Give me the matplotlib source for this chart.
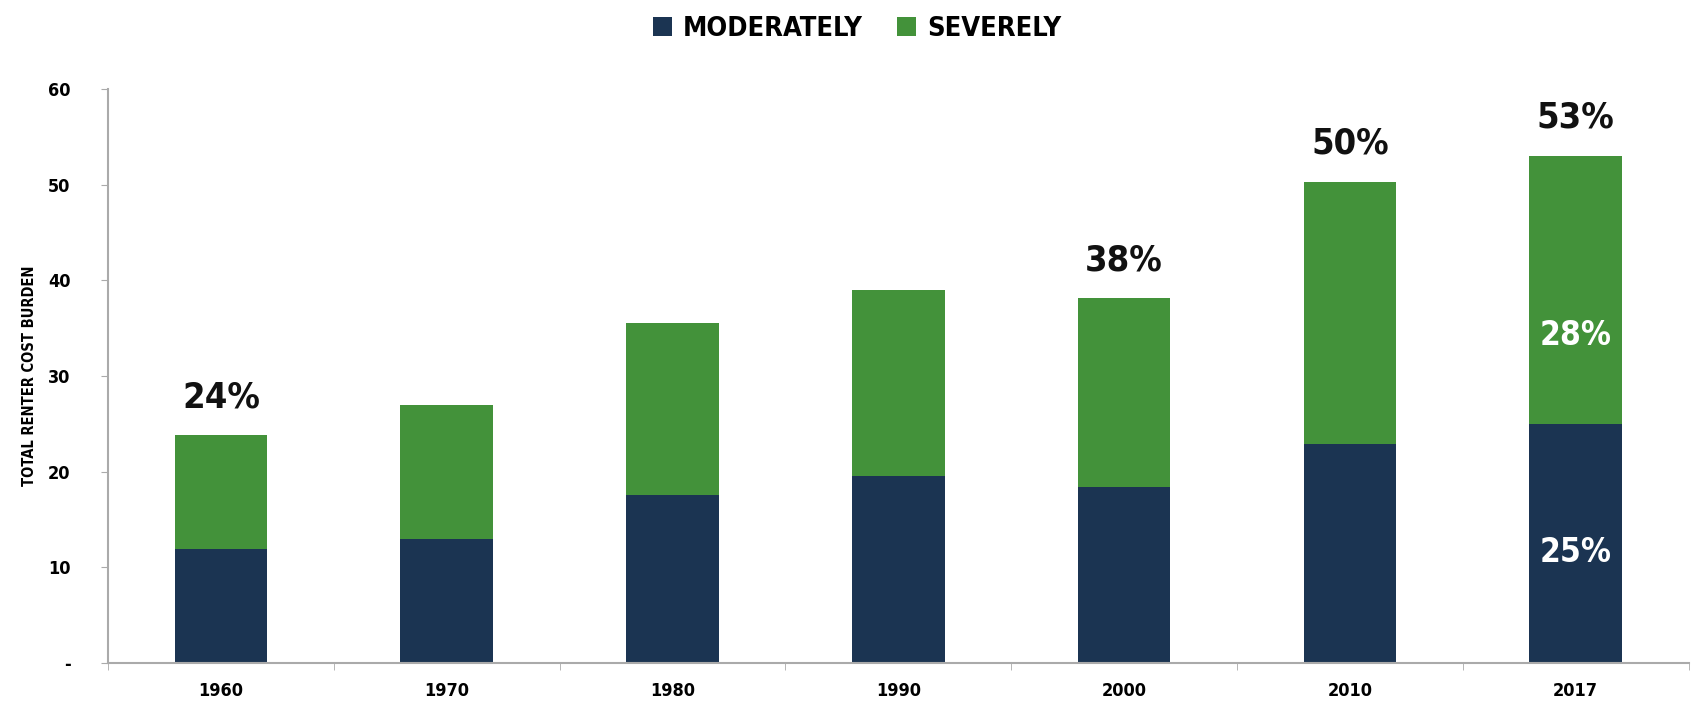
import matplotlib
matplotlib.use("Agg")
import matplotlib.pyplot as plt
import numpy as np

years = ["1960", "1970", "1980", "1990", "2000", "2010", "2017"]
moderately = [11.9, 13.0, 17.6, 19.5, 18.4, 22.9, 25.0]
severely = [11.9, 14.0, 17.9, 19.5, 19.7, 27.4, 28.0]
total_labels = {0: "24%", 4: "38%", 5: "50%", 6: "53%"}
inner_labels = {6: ("25%", "28%")}

NAVY = "#1b3452"
GREEN = "#43923a"

plt.rcParams["font.family"] = ["DejaVu Sans"]
plt.rcParams["font.stretch"] = "condensed"
plt.rcParams["font.weight"] = "bold"

fig = plt.figure(figsize=(16.97, 7.11), dpi=100)
ax = fig.add_axes([0.0636, 0.0675, 0.9314, 0.8075])

x = np.arange(len(years))
mod = np.array(moderately)
sev = np.array(severely)
ax.bar(x, mod, width=0.41, color=NAVY, label="MODERATELY")
ax.bar(x, sev, width=0.41, bottom=mod, color=GREEN, label="SEVERELY")

# totals above the bars, split shares inside the last bar
for i, txt in total_labels.items():
    ax.text(x[i], mod[i] + sev[i] + 2.2, txt, ha="center", va="bottom",
            fontsize=26, fontweight="bold", color="#111111")
for i, (lo, hi) in inner_labels.items():
    ax.text(x[i], mod[i] * 0.46, lo, ha="center", va="center",
            fontsize=24, fontweight="bold", color="white")
    ax.text(x[i], mod[i] + sev[i] * 0.33, hi, ha="center", va="center",
            fontsize=24, fontweight="bold", color="white")

ax.set_xlim(-0.5, len(years) - 0.5)
ax.set_ylim(0, 60)
ax.set_yticks(range(0, 61, 10))
ax.set_yticklabels(["-"] + [str(v) for v in range(10, 61, 10)])
ax.set_xticks(x)
ax.set_xticklabels(years)
ax.set_xticks(np.arange(-0.5, len(years)), minor=True)
ax.tick_params(axis="x", which="major", length=0, pad=14, labelsize=13)
ax.tick_params(axis="x", which="minor", length=5, color="#aaaaaa")
ax.tick_params(axis="y", length=5, color="#aaaaaa", pad=22, labelsize=13)

for side in ["top", "right"]:
    ax.spines[side].set_visible(False)
for side in ["left", "bottom"]:
    ax.spines[side].set_color("#aaaaaa")
    ax.spines[side].set_linewidth(1.5)

ax.set_ylabel("TOTAL RENTER COST BURDEN", fontsize=10.5, fontweight="bold", labelpad=8)

fig.legend(loc="upper center", bbox_to_anchor=(0.505, 1.012), ncol=2, frameon=False,
           fontsize=19.5, handlelength=0.7, handleheight=0.7, columnspacing=1.3,
           handletextpad=0.4)

fig.savefig("out.png", dpi=100)
